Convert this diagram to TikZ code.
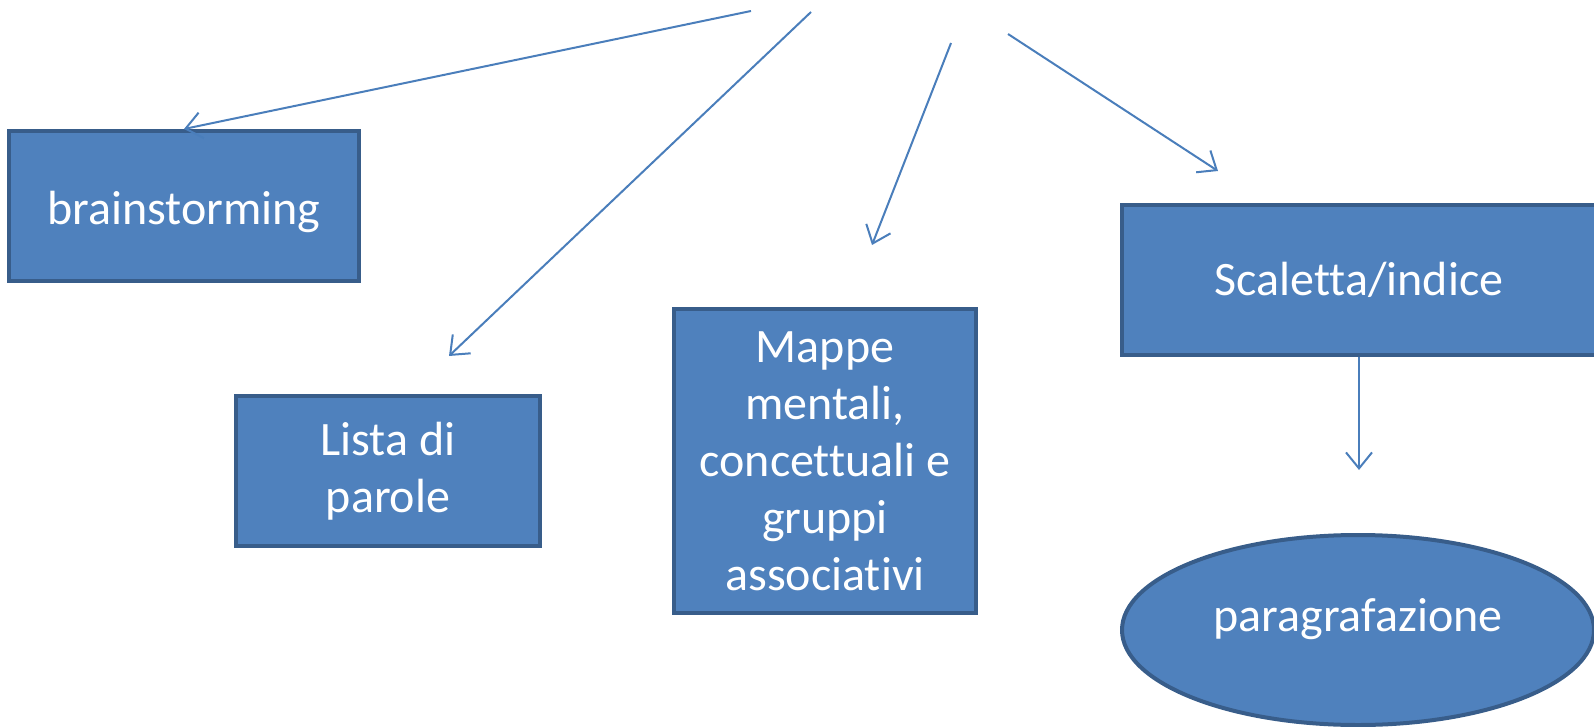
\documentclass[tikz,border=0pt]{standalone}
\usepackage{fontspec}
\setmainfont{Carlito}[Ligatures=NoCommon]
\usetikzlibrary{arrows.meta,shapes.geometric,positioning}
\definecolor{boxfill}{HTML}{4F81BD}
\definecolor{boxline}{HTML}{385D8A}
\definecolor{arrowline}{HTML}{4A7EBB}

\begin{document}
\begin{tikzpicture}[
        x = 0.5pt, y = -0.5pt, % one unit = one pixel of the slide
        line width = 1pt
    ]

    \tikzstyle{box}=[
        draw = boxline,
        line width = 2pt,
        fill = boxfill,
        text = white,
        align = center,
        font = \fontsize{24}{28.5}\selectfont
    ]
    \tikzstyle{link}=[
        draw = arrowline,
        -{Straight Barb[length=8pt,width=13pt]} % open arrow head
    ]

    \useasboundingbox (0,0) rectangle (1594,727);

    \node[box, minimum width=175pt, minimum height=75pt, text height=24pt, text depth=5pt] (brain) at (184,206) {brainstorming};
    \node[box, minimum width=152pt, minimum height=75pt] (lista) at (388,471) {Lista di\\parole};
    \node[box, minimum width=151pt, minimum height=152pt] (mappe) at (825,461) {Mappe\\mentali,\\concettuali e\\gruppi\\associativi};
    \node[box, minimum width=237pt, minimum height=75pt, text height=20pt, text depth=5pt] (scal) at (1359,280) {Scaletta/indice};
    \node[box, ellipse, minimum width=236pt, minimum height=95pt, text height=14pt, text depth=12.4pt] (para) at (1358,630) {paragrafazione};

    % free ends of the arrows
    \coordinate (s1) at (751,11);
    \coordinate (s2) at (811,12);
    \coordinate (s3) at (951,43);
    \coordinate (s4) at (1008,34);
    \coordinate (t2) at (449,356);
    \coordinate (t3) at (872,245);
    \coordinate (t4) at (1218,171);
    \coordinate (t5) at (1359,470);

    \draw[link] (s1) -- (brain.north);
    \draw[link] (s2) -- (t2);
    \draw[link] (s3) -- (t3);
    \draw[link] (s4) -- (t4);
    \draw[link] (scal.south) -- (t5);
\end{tikzpicture}
\end{document}
